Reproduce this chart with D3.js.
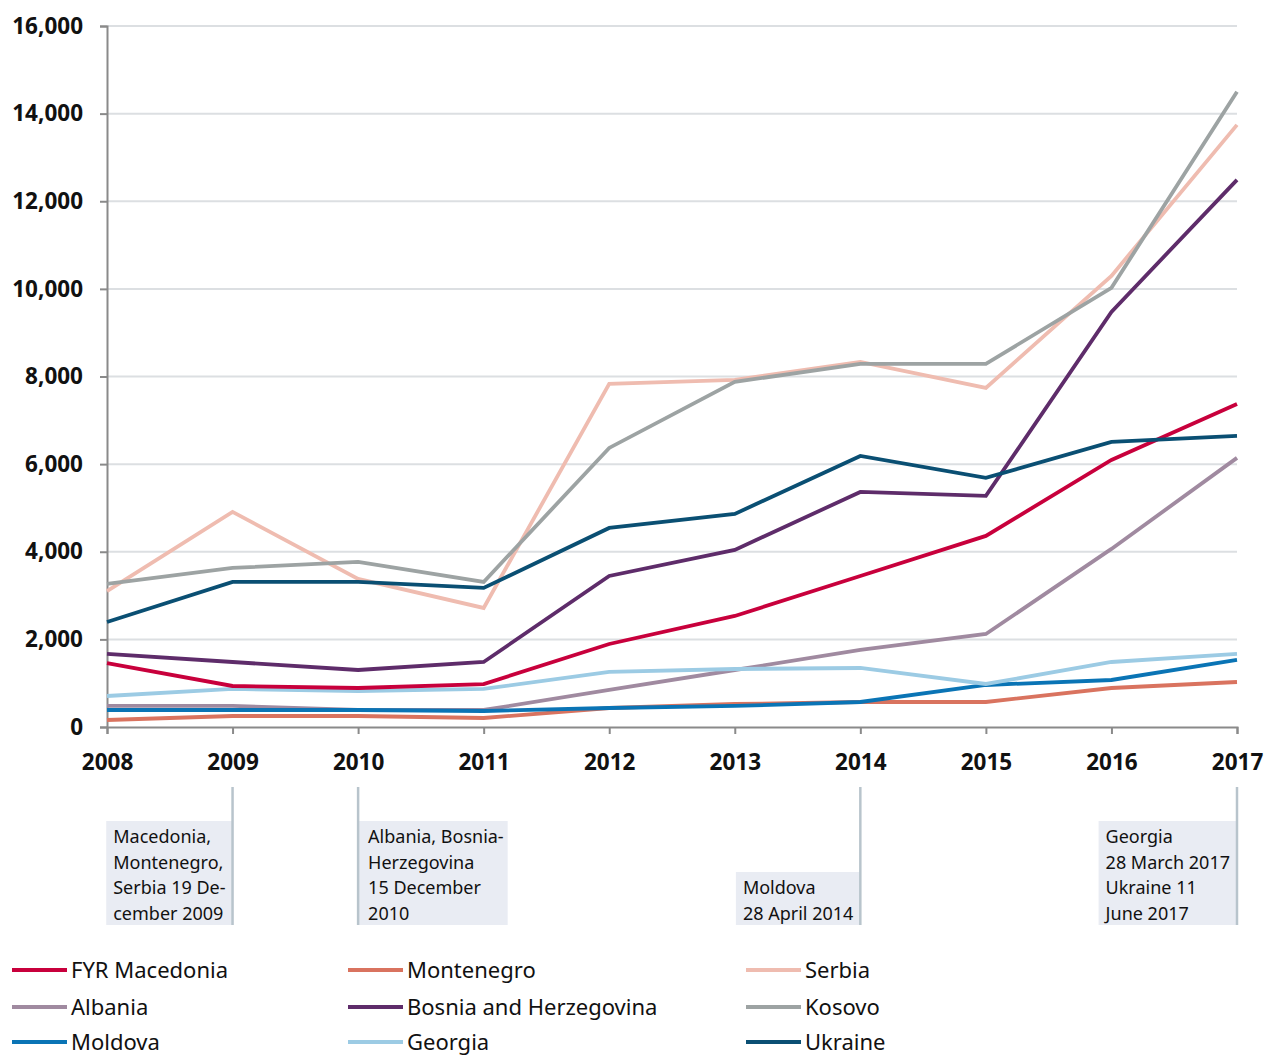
<!DOCTYPE html>
<html><head><meta charset="utf-8">
<script src="https://cdn.jsdelivr.net/npm/d3@7"></script>
<style>body{margin:0;background:#fff}svg{display:block}</style>
</head><body>
<script>
const years = [2008,2009,2010,2011,2012,2013,2014,2015,2016,2017];
const yTicks = [0,2000,4000,6000,8000,10000,12000,14000,16000];
const seriesNames = ["FYR Macedonia","Montenegro","Serbia","Albania","Bosnia and Herzegovina","Kosovo","Moldova","Georgia","Ukraine"];
const seriesColors = ["#c8003c","#d9735f","#efbcb0","#a08aa0","#5e2c6a","#9da3a3","#0a74b5","#9ccbe4","#0a4f73"];
const fyrMacedonia = [1460,936,890,980,1895,2534,3447,4361,6096,7374];
const montenegro = [160,251,251,205,434,525,571,571,890,1027];
const serbia = [3100,4909,3379,2717,7831,7922,8333,7740,10297,13744];
const albania = [480,480,388,388,845,1301,1758,2123,4064,6142];
const bosnia = [1667,1484,1301,1484,3447,4041,5365,5274,9475,12489];
const kosovo = [3265,3630,3767,3311,6370,7877,8288,8288,10023,14498];
const moldova = [388,388,388,365,434,480,571,959,1073,1530];
const georgia = [708,868,822,868,1256,1324,1347,982,1484,1667];
const ukraine = [2397,3311,3311,3174,4543,4863,6187,5685,6507,6644];
const seriesValues = [fyrMacedonia,montenegro,serbia,albania,bosnia,kosovo,moldova,georgia,ukraine];
// draw order (back to front)
const drawOrder = [2,5,3,1,6,7,0,4,8];
const annotations = [
  {year:2009, side:"left", lines:["Macedonia,","Montenegro,","Serbia 19 De-","cember 2009"]},
  {year:2010, side:"right", lines:["Albania, Bosnia-","Herzegovina","15 December","2010"]},
  {year:2014, side:"left", lines:["Moldova","28 April 2014"]},
  {year:2017, side:"left", lines:["Georgia","28 March 2017","Ukraine 11","June 2017"]}
];

const W=1265,H=1059;
const svg=d3.select("body").append("svg").attr("width",W).attr("height",H);
const x=d3.scaleLinear().domain([2008,2017]).range([107,1237]);
const y=d3.scaleLinear().domain([0,16000]).range([727,26]);
const font="'Noto Sans', 'Open Sans', sans-serif";

// grid
svg.append("g").selectAll("line").data(yTicks.filter(d=>d>0)).join("line")
  .attr("x1",107).attr("x2",1237).attr("y1",d=>y(d)).attr("y2",d=>y(d))
  .attr("stroke","#dcdfe2").attr("stroke-width",2);

// y axis
const ya=svg.append("g").attr("transform","translate(107,0)")
  .call(d3.axisLeft(y).tickValues(yTicks).tickSize(7).tickPadding(17).tickFormat(d3.format(",")));
ya.select(".domain").attr("stroke","#8a8a8a").attr("stroke-width",2);
ya.selectAll(".tick line").attr("stroke","#8a8a8a").attr("stroke-width",2);
ya.selectAll("text").attr("font-family",font).attr("font-size",22.5).attr("font-weight","bold").attr("fill","#111");

// x axis
const xa=svg.append("g").attr("transform","translate(0,727)")
  .call(d3.axisBottom(x).tickValues(years).tickSize(7).tickPadding(20).tickFormat(d3.format("d")));
xa.select(".domain").attr("stroke","#8a8a8a").attr("stroke-width",2);
xa.selectAll(".tick line").attr("stroke","#8a8a8a").attr("stroke-width",2);
xa.selectAll("text").attr("font-family",font).attr("font-size",22.5).attr("font-weight","bold").attr("fill","#111");

// lines
const line=d3.line().x((d,i)=>x(years[i])).y(d=>y(d));
svg.append("g").selectAll("path").data(drawOrder).join("path")
  .attr("d",i=>line(seriesValues[i])).attr("fill","none")
  .attr("stroke",i=>seriesColors[i]).attr("stroke-width",3.8).attr("stroke-linejoin","miter");

// annotations
const lh=25.5;
const ag=svg.append("g");
annotations.forEach(a=>{
  const xr=x(a.year);
  const n=a.lines.length;
  const bottom=925;
  const top=bottom-n*lh-2;
  const tmp=ag.append("g");
  const texts=a.lines.map((t,i)=>tmp.append("text").attr("font-family",font).attr("font-size",18).attr("fill","#111").text(t));
  const wmax=d3.max(texts,t=>t.node().getComputedTextLength());
  const bw=wmax+14;
  const left=a.side==="left"?xr-bw:xr;
  tmp.insert("rect",":first-child").attr("x",left).attr("y",top).attr("width",bw).attr("height",bottom-top).attr("fill","#e9ecf3");
  texts.forEach((t,i)=>t.attr("x",left+(a.side==="left"?7:10)).attr("y",top+22+i*lh));
  ag.append("line").attr("x1",xr).attr("x2",xr).attr("y1",787).attr("y2",bottom).attr("stroke","#b8c4cc").attr("stroke-width",2.5);
});

// legend
const colX=[12,348,746], rowY=[970,1007,1042];
const lg=svg.append("g");
seriesNames.forEach((n,i)=>{
  const cx=colX[i%3], cy=rowY[Math.floor(i/3)];
  lg.append("line").attr("x1",cx).attr("x2",cx+55).attr("y1",cy).attr("y2",cy).attr("stroke",seriesColors[i]).attr("stroke-width",4);
  lg.append("text").attr("x",cx+59).attr("y",cy+8).attr("font-family",font).attr("font-size",22).attr("fill","#111").text(n);
});
</script>
</body></html>
